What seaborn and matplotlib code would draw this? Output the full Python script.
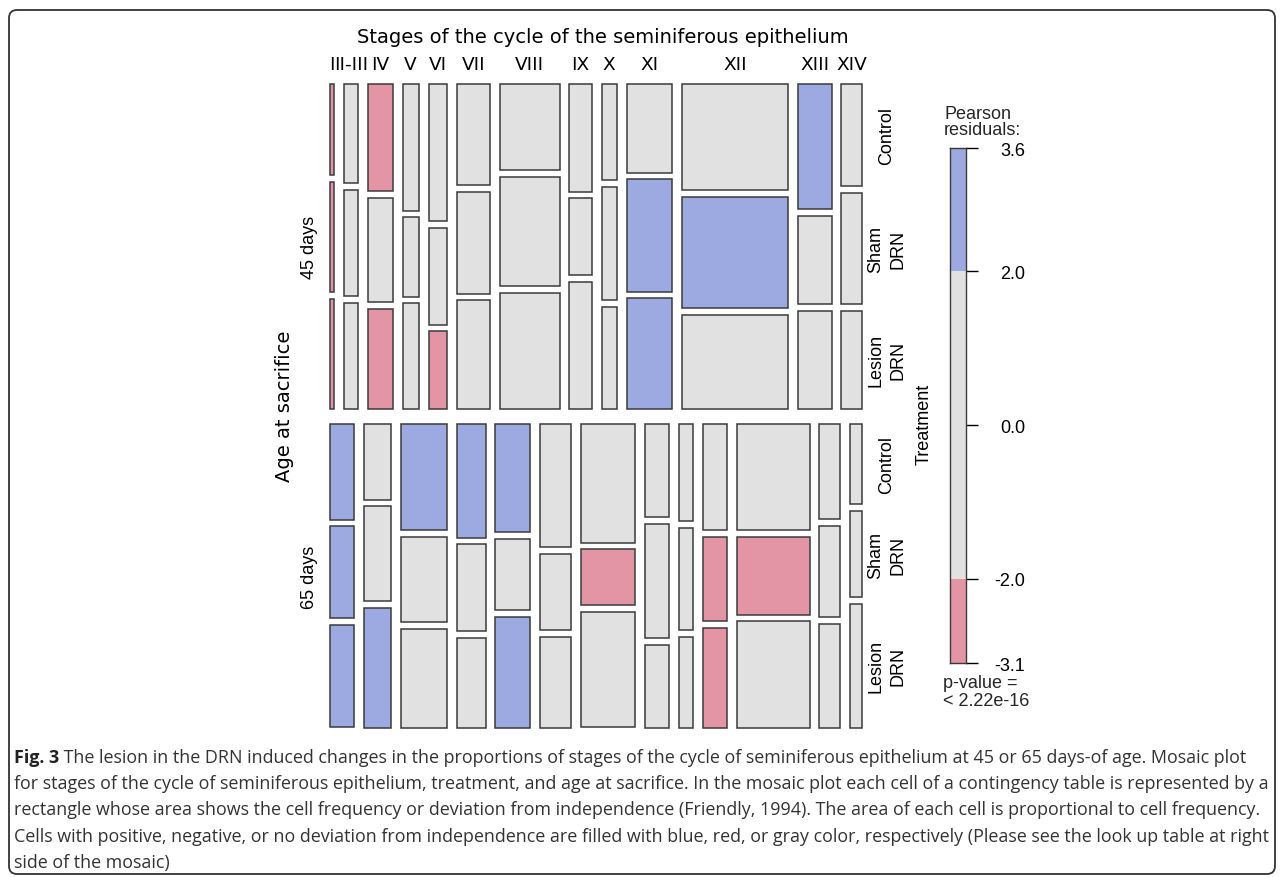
import matplotlib
matplotlib.use("Agg")
import matplotlib.pyplot as plt
from matplotlib.patches import FancyBboxPatch
import numpy as np
import seaborn as sns

# ── data ────────────────────────────────────────────────────────────────────
AGES = ["45 days", "65 days"]
AGE_SHARE = [51.7, 48.3]                     # % of observations per age

STAGES = ["I", "II-III", "IV", "V", "VI", "VII", "VIII",
          "IX", "X", "XI", "XII", "XIII", "XIV"]
TREATMENTS = ["Control", "Sham\nDRN", "Lesion\nDRN"]

# % of each age group falling in each stage (column widths)
STAGE_SHARE_45 = [1.14, 3.31, 6.05, 3.94, 4.45, 7.98, 14.44,
                  5.39, 3.70, 11.05, 25.57, 8.13, 4.84]
STAGE_SHARE_65 = [6.03, 6.44, 11.26, 6.85, 8.34, 7.47, 13.11,
                  5.88, 3.54, 5.78, 17.52, 4.99, 2.80]

# % Control / Sham / Lesion inside each age x stage column
TREAT_SHARE_45 = [[29.3, 35.4, 35.3], [31.9, 34.2, 33.9], [34.5, 33.5, 32.0],
                  [40.7, 25.5, 33.8], [44.1, 31.0, 24.8], [32.5, 32.7, 34.8],
                  [27.6, 35.3, 37.1], [34.6, 24.7, 40.7], [31.0, 36.4, 32.6],
                  [28.5, 36.1, 35.4], [34.1, 35.7, 30.2], [40.3, 28.3, 31.3],
                  [32.9, 35.8, 31.3]]
TREAT_SHARE_65 = [[32.9, 31.7, 35.4], [26.0, 32.6, 41.3], [36.5, 29.5, 34.0],
                  [39.1, 29.9, 31.0], [37.3, 24.6, 38.1], [42.5, 26.3, 31.2],
                  [40.8, 19.2, 39.9], [32.1, 39.4, 28.4], [33.4, 35.3, 31.3],
                  [36.6, 29.2, 34.3], [36.5, 26.9, 36.6], [32.8, 31.4, 35.8],
                  [27.5, 29.9, 42.6]]

# Pearson residual class per cell: -1 (< -2), 0, +1 (> 2)
SHADE_45 = [[-1, -1, -1], [0, 0, 0], [-1, 0, -1], [0, 0, 0], [0, 0, -1],
            [0, 0, 0], [0, 0, 0], [0, 0, 0], [0, 0, 0], [0, 1, 1],
            [0, 1, 0], [1, 0, 0], [0, 0, 0]]
SHADE_65 = [[1, 1, 1], [0, 0, 1], [1, 0, 0], [1, 0, 0], [1, 0, 1],
            [0, 0, 0], [0, -1, 0], [0, 0, 0], [0, 0, 0], [0, -1, -1],
            [0, -1, 0], [0, 0, 0], [0, 0, 0]]

RESID_BREAKS = [-3.1, -2.0, 2.0, 3.6]
RESID_TICKS = [-3.1, -2.0, 0.0, 2.0, 3.6]
P_VALUE = "< 2.22e-16"

CAPTION_BOLD = "Fig. 3"
CAPTION = [
    " The lesion in the DRN induced changes in the proportions of stages of the cycle of seminiferous epithelium at 45 or 65 days-of age. Mosaic plot",
    "for stages of the cycle of seminiferous epithelium, treatment, and age at sacrifice. In the mosaic plot each cell of a contingency table is represented by a",
    "rectangle whose area shows the cell frequency or deviation from independence (Friendly, 1994). The area of each cell is proportional to cell frequency.",
    "Cells with positive, negative, or no deviation from independence are filled with blue, red, or gray color, respectively (Please see the look up table at right",
    "side of the mosaic)",
]

# ── style ───────────────────────────────────────────────────────────────────
sns.set_theme(style="white")
plt.rcParams["font.family"] = ["DejaVu Sans"]

BLUE, GRAY, PINK = "#9DAAE2", "#E1E1E1", "#E495A5"
SHADE_COLORS = {-1: PINK, 0: GRAY, 1: BLUE}
EDGE = "#3a3a3a"
R_FONT = ["Liberation Sans", "DejaVu Sans"]
CAP_FONT = ["Liberation Sans Narrow", "DejaVu Sans Condensed", "Open Sans", "DejaVu Sans"]

W, H = 1281, 878
fig = plt.figure(figsize=(W / 100, H / 100), dpi=100)
ax = fig.add_axes([0, 0, 1, 1])
ax.set_xlim(0, W)
ax.set_ylim(H, 0)
ax.axis("off")

# outer rounded frame
ax.add_patch(FancyBboxPatch((9, 11), 1266, 864, boxstyle="round,pad=0,rounding_size=8",
                            fill=False, ec="#333333", lw=1.3))

# ── mosaic layout ───────────────────────────────────────────────────────────
MOS_X0, MOS_X1 = 329.5, 861.5
MOS_Y0, MOS_Y1 = 85.0, 728.5
GAP_AGE, GAP_STAGE, GAP_TREAT = 15.7, 9.85, 6.8

stage_shares = [STAGE_SHARE_45, STAGE_SHARE_65]
treat_shares = [TREAT_SHARE_45, TREAT_SHARE_65]
shades = [SHADE_45, SHADE_65]

age_frac = np.array(AGE_SHARE) / np.sum(AGE_SHARE)
age_h = (MOS_Y1 - MOS_Y0 - GAP_AGE * (len(AGES) - 1)) * age_frac
age_top = MOS_Y0 + np.concatenate([[0], np.cumsum(age_h + GAP_AGE)[:-1]])

first_row_centers = None
last_col_centers = []
for a in range(len(AGES)):
    sw = np.array(stage_shares[a]) / np.sum(stage_shares[a])
    widths = (MOS_X1 - MOS_X0 - GAP_STAGE * (len(STAGES) - 1)) * sw
    lefts = MOS_X0 + np.concatenate([[0], np.cumsum(widths + GAP_STAGE)[:-1]])
    if a == 0:
        first_row_centers = lefts + widths / 2
    inner = age_h[a] - GAP_TREAT * (len(TREATMENTS) - 1)
    xs, ws, ys, hs, cs = [], [], [], [], []
    for s in range(len(STAGES)):
        tf = np.array(treat_shares[a][s]) / np.sum(treat_shares[a][s])
        th = inner * tf
        tops = age_top[a] + np.concatenate([[0], np.cumsum(th + GAP_TREAT)[:-1]])
        for t in range(len(TREATMENTS)):
            xs.append(lefts[s]); ws.append(widths[s])
            ys.append(tops[t]); hs.append(th[t])
            cs.append(SHADE_COLORS[shades[a][s][t]])
        if s == len(STAGES) - 1:
            last_col_centers.append(tops + th / 2)
    ax.bar(xs, hs, width=ws, bottom=ys, align="edge", color=cs,
           edgecolor=EDGE, linewidth=1.1)

# stage labels and title
ax.text((MOS_X0 + MOS_X1) / 2 + 7, 43, "Stages of the cycle of the seminiferous epithelium",
        ha="center", va="baseline", fontsize=14, color="black")
for x, lab in zip(first_row_centers, STAGES):
    ax.text(x, 70, lab, ha="center", va="baseline", fontsize=13.3, color="black")

# age labels
ax.text(284, (MOS_Y0 + MOS_Y1) / 2, "Age at sacrifice", rotation=90,
        ha="center", va="center", fontsize=14, color="black")
for a, lab in enumerate(AGES):
    ax.text(309, age_top[a] + age_h[a] / 2, lab, rotation=90, ha="center",
            va="center", fontsize=13, family=R_FONT, color="black")

# treatment labels (right side, next to the last column)
for a in range(len(AGES)):
    for t, lab in enumerate(TREATMENTS):
        ax.text(887, last_col_centers[a][t], lab, rotation=90, ha="center",
                va="center", fontsize=13, family=R_FONT, linespacing=1.45,
                multialignment="center", color="black")
ax.text(924.5, 424, "Treatment", rotation=90, ha="center", va="center",
        fontsize=13, family=R_FONT, color="black")

# ── residual legend ─────────────────────────────────────────────────────────
CB_TOP, CB_BOT = 149.4, 664.2
cax = fig.add_axes([950 / W, 1 - CB_BOT / H, 15.7 / W, (CB_BOT - CB_TOP) / H])
lows = RESID_BREAKS[:-1]
highs = RESID_BREAKS[1:]
cax.bar([0] * 3, np.subtract(highs, lows), bottom=lows, width=1.0,
        color=[PINK, GRAY, BLUE], linewidth=0)
cax.set_xlim(-0.5, 0.5)
cax.set_ylim(RESID_BREAKS[0], RESID_BREAKS[-1])
cax.set_xticks([])
cax.yaxis.tick_right()
cax.set_yticks(RESID_TICKS, labels=[f"{v:.1f}" for v in RESID_TICKS])
cax.tick_params(axis="y", right=True, length=8.4, width=1.0, direction="out",
                pad=34.6, labelsize=13, colors="black")
for lab in cax.get_yticklabels():
    lab.set_ha("right")
    lab.set_family(R_FONT)
for sp in cax.spines.values():
    sp.set_color(EDGE)
    sp.set_linewidth(1.0)

ax.text(944, 118.7, "Pearson", fontsize=13, family=R_FONT, va="baseline")
ax.text(944, 134.7, "residuals:", fontsize=13, family=R_FONT, va="baseline")
ax.text(943, 688, "p-value =", fontsize=13, family=R_FONT, va="baseline")
ax.text(943, 706, P_VALUE, fontsize=13, family=R_FONT, va="baseline")

# ── caption ─────────────────────────────────────────────────────────────────
CAP_X, CAP_RIGHT, CAP_Y0, CAP_DY = 13.5, 1266, 763, 26.2
renderer = fig.canvas.get_renderer()
probe = ax.text(CAP_X, CAP_Y0, CAPTION[1], fontsize=12, family=CAP_FONT)
cap_size = 12 * (CAP_RIGHT - CAP_X) / probe.get_window_extent(renderer).width
probe.remove()

bold = ax.text(CAP_X, CAP_Y0, CAPTION_BOLD, fontsize=cap_size, family=CAP_FONT,
               fontweight="bold", va="baseline", color="#222222")
bw = bold.get_window_extent(renderer).width
for i, line in enumerate(CAPTION):
    x = CAP_X + (bw if i == 0 else 0)
    ax.text(x, CAP_Y0 + i * CAP_DY, line, fontsize=cap_size, family=CAP_FONT,
            va="baseline", color="#333333")

fig.savefig("out.png", dpi=100)
